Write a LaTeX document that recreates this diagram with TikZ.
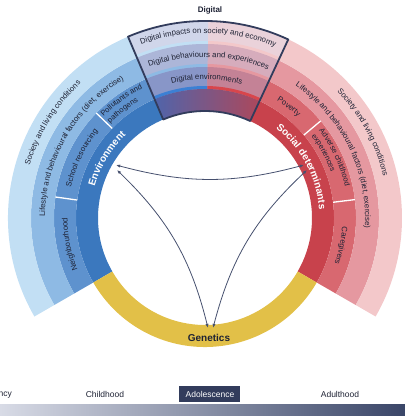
\documentclass[tikz,border=0pt]{standalone}
\usepackage{fontspec}
\setmainfont{Liberation Sans}
\usetikzlibrary{decorations.text,arrows.meta}

% ring colours
\definecolor{envA}{RGB}{59,120,190}
\definecolor{envB}{RGB}{94,146,206}
\definecolor{envC}{RGB}{142,186,228}
\definecolor{envD}{RGB}{194,223,244}
\definecolor{socA}{RGB}{200,66,76}
\definecolor{socB}{RGB}{216,104,112}
\definecolor{socC}{RGB}{229,152,160}
\definecolor{socD}{RGB}{243,200,202}
\definecolor{gene}{RGB}{226,192,72}
% digital box colours
\definecolor{digDl}{RGB}{208,214,234}
\definecolor{digDr}{RGB}{234,210,218}
\definecolor{digCl}{RGB}{172,182,216}
\definecolor{digCr}{RGB}{214,172,188}
\definecolor{digBl}{RGB}{136,150,200}
\definecolor{digBr}{RGB}{196,130,150}
\definecolor{digStl}{RGB}{60,128,212}
\definecolor{digStr}{RGB}{216,70,76}
\definecolor{digAl}{RGB}{80,100,170}
\definecolor{digAr}{RGB}{172,72,92}
\definecolor{navy}{RGB}{50,60,92}
\definecolor{inkc}{RGB}{30,34,52}
\definecolor{linkc}{RGB}{70,80,110}
\definecolor{barL}{RGB}{216,219,230}
\definecolor{barR}{RGB}{58,70,104}

\newcommand\ringfont{\fontsize{7.8}{9.4}\selectfont}
\newcommand\pairfont{\fontsize{7.6}{9}\selectfont}
\newcommand\bandfont{\bfseries\fontsize{10}{12}\selectfont}

% annular segment: colour, angle from, angle to, inner radius, outer radius
\newcommand\ringseg[5]{%
  \fill[#1] (#2:#4pt) arc[start angle=#2,end angle=#3,radius=#4pt]
    -- (#3:#5pt) arc[start angle=#3,end angle=#2,radius=#5pt] -- cycle;}

% clockwise text centred on an angle: colour, centre angle, half span, baseline radius, text
\newcommand\arclabel[5]{%
  \path[decorate,decoration={text along path,text align=center,text color=#1,text={#5}}]
    ({#2+#3}:#4pt) arc[start angle={#2+#3},end angle={#2-#3},radius=#4pt];}

% clockwise text starting at an angle: colour, start angle, span, baseline radius, text
\newcommand\arclabelstart[5]{%
  \path[decorate,decoration={text along path,text align=left,text color=#1,text={#5}}]
    (#2:#4pt) arc[start angle=#2,end angle={#2-#3},radius=#4pt];}

\begin{document}
\begin{tikzpicture}[x=1pt,y=1pt,
  link/.style={draw=linkc,line width=0.8pt,
    arrows={Latex[length=4.2pt,width=3.2pt]-Latex[length=4.2pt,width=3.2pt]}},
  boxline/.style={draw=navy,line width=1.8pt,line join=round},
  divider/.style={draw=white,line width=1.3pt},
  stage/.style={font=\fontsize{8.5}{10}\selectfont,text=inkc,inner sep=0pt},
  current/.style={fill=navy,text=white,font=\fontsize{8.5}{10}\selectfont,
    minimum width=61pt,minimum height=16pt,inner sep=0pt},
  heading/.style={font=\bfseries\fontsize{8}{10}\selectfont,text=inkc,inner sep=0pt},
  genlabel/.style={font=\bandfont,text=inkc,inner sep=0pt}]
\useasboundingbox (-205,-198) rectangle (200,218);

% ---- environment side (blue rings) ----
\ringseg{envA}{89}{210}{107}{129}
\ringseg{envB}{89}{210}{129}{151}
\ringseg{envC}{89}{210}{151}{174}
\ringseg{envD}{89}{210}{174}{197}
% ---- social determinants side (red rings) ----
\ringseg{socA}{-30}{89}{107}{129}
\ringseg{socB}{-30}{89}{129}{151}
\ringseg{socC}{-30}{89}{151}{174}
\ringseg{socD}{-30}{89}{174}{197}
% ---- genetics band ----
\ringseg{gene}{210}{330}{107}{129}

% white dividers in the second ring
\draw[divider] (136:129pt) -- (136:151pt);
\draw[divider] (172:129pt) -- (172:151pt);
\draw[divider] (40:129pt) -- (40:151pt);
\draw[divider] (7:129pt) -- (7:151pt);

% ---- digital sector ----
\ringseg{digDl}{89}{113}{174}{197}
\ringseg{digDr}{65}{89}{174}{197}
\ringseg{envD}{89}{113}{174}{177}
\ringseg{socD}{65}{89}{174}{177}
\ringseg{digCl}{89}{113}{151}{174}
\ringseg{digCr}{65}{89}{151}{174}
\ringseg{envC}{89}{113}{151}{154}
\ringseg{socC}{65}{89}{151}{154}
\ringseg{digBl}{89}{113}{129}{151}
\ringseg{digBr}{65}{89}{129}{151}
\ringseg{digStl}{89}{113}{129}{132}
\ringseg{digStr}{65}{89}{129}{132}
\shade[left color=digAl,right color=digAr]
  (65:107pt) arc[start angle=65,end angle=113,radius=107pt]
  -- (113:129pt) arc[start angle=113,end angle=65,radius=129pt] -- cycle;
\draw[boxline] (65:107pt) arc[start angle=65,end angle=113,radius=107pt]
  -- (113:197pt) arc[start angle=113,end angle=65,radius=197pt] -- cycle;

\node[heading] (digital) at (5,208) {Digital};
\arclabel{inkc}{89}{40}{185}{|\ringfont|Digital impacts on society and economy}
\arclabel{inkc}{88.7}{40}{161}{|\ringfont|Digital behaviours and experiences}
\arclabel{inkc}{89.3}{40}{138.5}{|\ringfont|Digital environments}

% ---- labels on the environment side ----
\arclabel{white}{149}{40}{114.5}{|\bandfont|Environment}
\arclabelstart{inkc}{135}{30}{143.5}{|\pairfont|Pollutants and}
\arclabelstart{inkc}{135}{30}{134}{|\pairfont|pathogens}
\arclabel{inkc}{154}{20}{137.5}{|\ringfont|School resourcing}
\arclabel{inkc}{191}{20}{137.5}{|\ringfont|Neighbourhood}
\arclabel{inkc}{150}{45}{160}{|\ringfont|Lifestyle and behavioural factors (diet, exercise)}
\arclabel{inkc}{148}{40}{183}{|\ringfont|Society and living conditions}

% ---- labels on the social determinants side ----
\arclabel{white}{28}{40}{114.5}{|\bandfont|Social determinants}
\arclabel{inkc}{53}{14}{137.5}{|\ringfont|Poverty}
\arclabelstart{inkc}{37.5}{34}{143.5}{|\pairfont|Adverse childhood}
\arclabelstart{inkc}{37.5}{34}{134}{|\pairfont|experiences}
\arclabel{inkc}{-11.5}{20}{137.5}{|\ringfont|Caregivers}
\arclabel{inkc}{26}{45}{160}{|\ringfont|Lifestyle and behavioural factors (diet, exercise)}
\arclabel{inkc}{28.5}{40}{183}{|\ringfont|Society and living conditions}

% ---- genetics label ----
\node[genlabel] (genetics) at (4,-120) {Genetics};

% ---- interactions between the three domains ----
\coordinate (envTop) at (-89,53);
\coordinate (socTop) at (99,53);
\coordinate (envLow) at (-88,48);
\coordinate (genLeft) at (3,-110);
\coordinate (socLow) at (102,48);
\coordinate (genRight) at (8,-110);
\draw[link] (envTop) to[bend right=15] (socTop);
\draw[link] (envLow) to[bend left=16] (genLeft);
\draw[link] (socLow) to[bend right=16] (genRight);

% ---- life-course timeline ----
\begin{scope}
  \clip (-205,-198) rectangle (200,218);
  \node[stage,anchor=east] (infancy) at (-193,-176) {Infancy};
\end{scope}
\node[stage] (childhood) at (-100,-176) {Childhood};
\node[current] (adolescence) at (5,-176) {Adolescence};
\node[stage] (adulthood) at (135,-176) {Adulthood};
\shade[left color=barL,right color=barR] (-205,-198) rectangle (200,-186);
\end{tikzpicture}
\end{document}
